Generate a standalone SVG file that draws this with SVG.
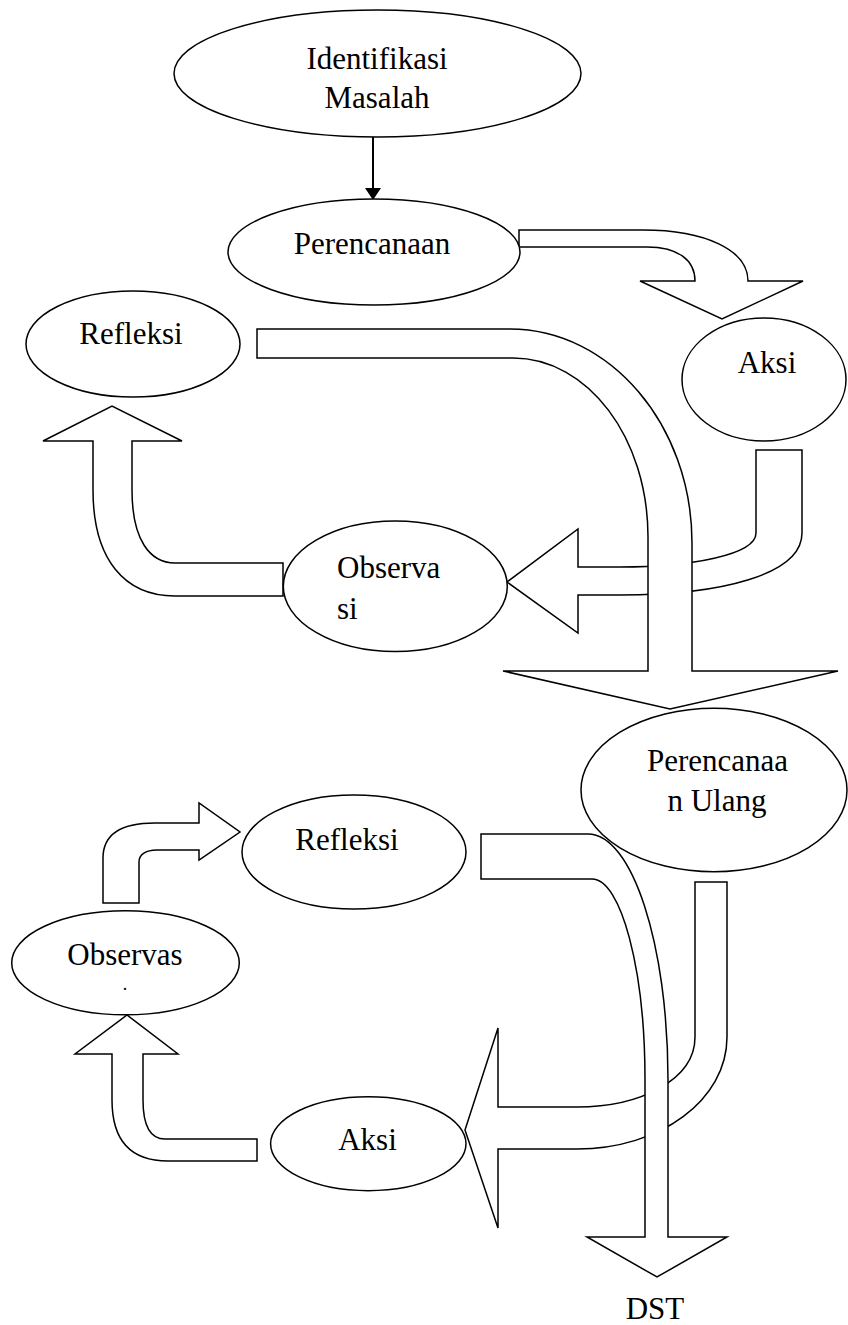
<svg xmlns="http://www.w3.org/2000/svg" width="848" height="1325" viewBox="0 0 848 1325">
<style>
  .shape { fill: #ffffff; stroke: #000000; stroke-width: 1.5; stroke-linejoin: miter; }
  .label { font-family: "Liberation Serif", "Times New Roman", serif; font-size: 31px; fill: #000000; }
  .mid { text-anchor: middle; }
</style>
<rect x="0" y="0" width="848" height="1325" fill="#ffffff"/>

<g id="connectors">
  <!-- thin arrow Identifikasi -> Perencanaan -->
  <line x1="373" y1="137" x2="373" y2="189" stroke="#000" stroke-width="2"/>
  <polygon points="365,188 381,188 373,200" fill="#000"/>
  <!-- Perencanaan -> Aksi -->
  <path id="arrow-a" class="shape" d="M 519 230 L 643 230 C 705 230, 748 250, 748 281 L 803 281 L 722 319 L 640 281 L 695 281 C 695 260, 678 247, 647 247 L 519 247 Z"/>
  <!-- Aksi -> Observasi (drawn under big arrow) -->
  <path id="arrow-c" class="shape" d="M 756 450 L 802 450 L 802 533 C 802 575, 720 595, 620 595 L 578 595 L 578 633 L 507 582 L 578 529 L 578 567 L 620 567 C 690 567, 756 555, 756 533 Z"/>
  <!-- Refleksi -> Perencanaan Ulang (big) -->
  <path id="arrow-b" class="shape" d="M 257 329 L 510 329 C 610 329, 692 425, 692 543 L 692 671 L 838 671 L 670 709 L 503 671 L 648 671 L 648 537 C 648 438, 588 358, 513 358 L 257 358 Z"/>
  <!-- Observasi -> Refleksi (top left) -->
  <path id="arrow-d" class="shape" d="M 283 563 L 175 563 C 150 563, 132 540, 132 490 L 132 441 L 182 441 L 112 406 L 43 441 L 93 441 L 93 490 C 93 560, 125 596, 175 596 L 283 596 Z"/>
  <!-- Observasi -> Refleksi (bottom) -->
  <path id="arrow-e" class="shape" d="M 103 903 L 103 858 C 103 835, 120 823, 155 823 L 199 823 L 199 803 L 240 832 L 199 860 L 199 850 L 157 850 C 145 850, 139 855, 139 862 L 139 903 Z"/>
  <!-- Aksi -> Observasi (bottom) -->
  <path id="arrow-f" class="shape" d="M 257 1139 L 165 1139 C 150 1139, 143 1125, 143 1100 L 143 1054 L 178 1054 L 127 1015 L 75 1054 L 112 1054 L 112 1100 C 112 1140, 130 1161, 168 1161 L 257 1161 Z"/>
  <!-- Perencanaan Ulang -> Aksi (bottom) -->
  <path id="arrow-h" class="shape" d="M 695 882 L 727 882 L 727 1037 C 727 1100, 660 1149, 577 1149 L 498 1149 L 498 1228 L 465 1130 L 498 1028 L 498 1107 L 577 1107 C 640 1107, 695 1080, 695 1037 Z"/>
  <!-- Refleksi -> DST (big) -->
  <path id="arrow-g" class="shape" d="M 481 834 L 588 834 C 632 834, 668 944, 668 1080 L 668 1237 L 727 1237 L 657 1277 L 587 1237 L 645 1237 L 645 1080 C 645 969, 621 879, 592 879 L 481 879 Z"/>
</g>

<g id="node-identifikasi">
  <ellipse class="shape" cx="377.5" cy="73.5" rx="203.5" ry="63.5"/>
  <text class="label mid" x="377" y="69">Identifikasi</text>
  <text class="label mid" x="377" y="108">Masalah</text>
</g>
<g id="node-perencanaan">
  <ellipse class="shape" cx="374" cy="252" rx="146" ry="53"/>
  <text class="label mid" x="372" y="254">Perencanaan</text>
</g>
<g id="node-refleksi-1">
  <ellipse class="shape" cx="133" cy="344" rx="107" ry="53"/>
  <text class="label mid" x="131" y="344">Refleksi</text>
</g>
<g id="node-aksi-1">
  <ellipse class="shape" cx="764" cy="379.5" rx="82" ry="61.5"/>
  <text class="label mid" x="767" y="373">Aksi</text>
</g>
<g id="node-observasi-1">
  <ellipse class="shape" cx="395.3" cy="586.3" rx="112" ry="65.3"/>
  <text class="label" x="337" y="578">Observa</text>
  <text class="label" x="337" y="619">si</text>
</g>
<g id="node-perencanaan-ulang">
  <ellipse class="shape" cx="714" cy="790" rx="133" ry="81.7"/>
  <text class="label mid" x="717.5" y="771">Perencanaa</text>
  <text class="label mid" x="717" y="811">n Ulang</text>
</g>
<g id="node-refleksi-2">
  <ellipse class="shape" cx="354" cy="852" rx="112" ry="57"/>
  <text class="label mid" x="347" y="850">Refleksi</text>
</g>
<g id="node-observasi-2">
  <ellipse class="shape" cx="125.5" cy="962.8" rx="113.8" ry="52"/>
  <text class="label mid" x="125" y="965">Observas</text>
  <text class="label mid" x="125" y="990" style="font-size:18px">.</text>
</g>
<g id="node-aksi-2">
  <ellipse class="shape" cx="368.3" cy="1143.7" rx="97.7" ry="47"/>
  <text class="label mid" x="367.5" y="1150">Aksi</text>
</g>
<g id="node-dst">
  <text class="label mid" x="655" y="1319">DST</text>
</g>
</svg>
